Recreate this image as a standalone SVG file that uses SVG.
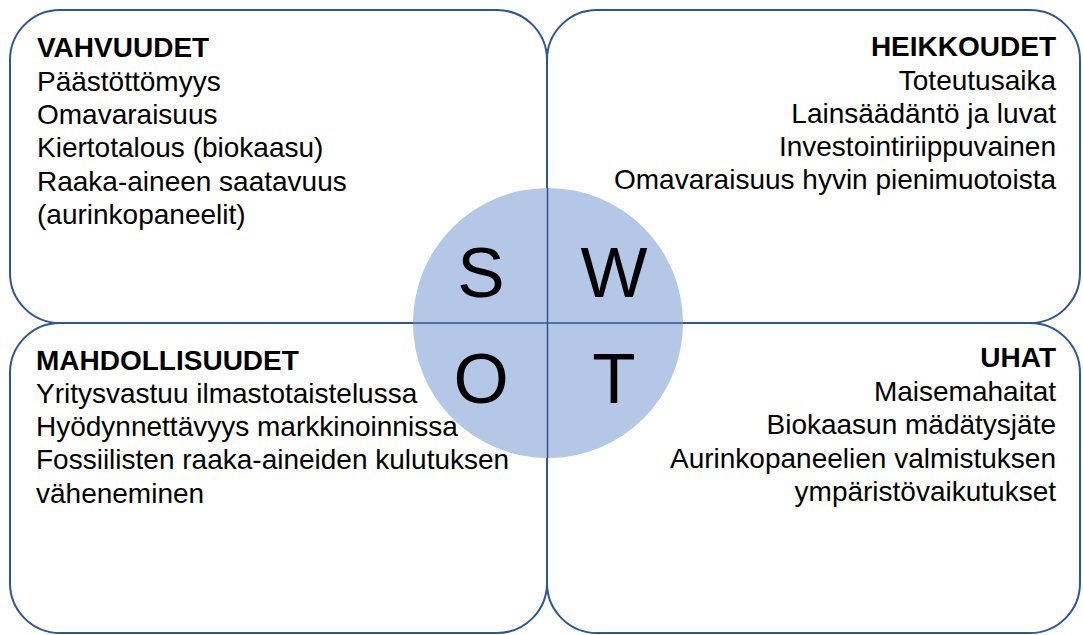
<svg xmlns="http://www.w3.org/2000/svg" width="1083" height="635" viewBox="0 0 1083 635">
<style>
.q{fill:none;stroke:#2F5597;stroke-width:2}
.x{stroke:#2F5597;stroke-width:1.5}
.t{font-family:"Liberation Sans",Arial,sans-serif;font-size:28px;fill:#000}
.h{font-weight:bold}
.r{text-anchor:end}
.big{font-family:"Liberation Sans",Arial,sans-serif;font-size:71px;fill:#000;text-anchor:middle}
</style>
<rect width="1083" height="635" fill="#fff"/>
<g id="frames">
<rect id="strengths-box" class="q" x="10" y="10" width="537" height="313" rx="50" ry="50"/>
<rect id="weaknesses-box" class="q" x="547" y="10" width="533" height="313" rx="50" ry="50"/>
<rect id="opportunities-box" class="q" x="10" y="323" width="537" height="310" rx="50" ry="50"/>
<rect id="threats-box" class="q" x="547" y="323" width="533" height="310" rx="50" ry="50"/>
</g>
<g id="center">
<circle cx="548" cy="323" r="135" fill="#B4C7E7"/>
<line class="x" x1="547.5" y1="188" x2="547.5" y2="458"/>
<line class="x" x1="413" y1="323" x2="683" y2="323"/>
<text class="big" x="481" y="297">S</text>
<text class="big" x="614" y="297">W</text>
<text class="big" x="481" y="403">O</text>
<text class="big" x="614" y="403">T</text>
</g>
<g id="strengths">
<text class="t h" x="37" y="57">VAHVUUDET</text>
<text class="t" x="37" y="91">Päästöttömyys</text>
<text class="t" x="37" y="124">Omavaraisuus</text>
<text class="t" x="37" y="157">Kiertotalous (biokaasu)</text>
<text class="t" x="37" y="191">Raaka-aineen saatavuus</text>
<text class="t" x="37" y="224">(aurinkopaneelit)</text>
</g>
<g id="weaknesses">
<text class="t h r" x="1056" y="56">HEIKKOUDET</text>
<text class="t r" x="1056" y="90">Toteutusaika</text>
<text class="t r" x="1056" y="123">Lainsäädäntö ja luvat</text>
<text class="t r" x="1056" y="156">Investointiriippuvainen</text>
<text class="t r" x="1056" y="189">Omavaraisuus hyvin pienimuotoista</text>
</g>
<g id="opportunities">
<text class="t h" x="36" y="370">MAHDOLLISUUDET</text>
<text class="t" x="36" y="403">Yritysvastuu ilmastotaistelussa</text>
<text class="t" x="36" y="436">Hyödynnettävyys markkinoinnissa</text>
<text class="t" x="36" y="469">Fossiilisten raaka-aineiden kulutuksen</text>
<text class="t" x="36" y="503">väheneminen</text>
</g>
<g id="threats">
<text class="t h r" x="1056" y="367">UHAT</text>
<text class="t r" x="1056" y="401">Maisemahaitat</text>
<text class="t r" x="1056" y="434">Biokaasun mädätysjäte</text>
<text class="t r" x="1056" y="468">Aurinkopaneelien valmistuksen</text>
<text class="t r" x="1056" y="501">ympäristövaikutukset</text>
</g>
<g id="connectors"></g>
</svg>
